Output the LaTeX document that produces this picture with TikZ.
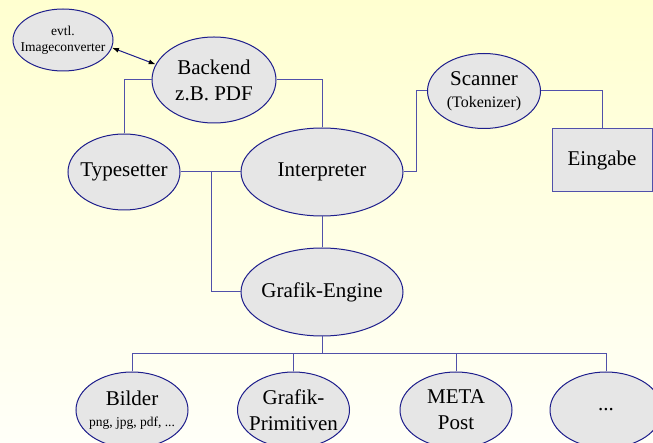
\documentclass[tikz,border=0pt]{standalone}
\usepackage{fontspec}
\setmainfont{Liberation Serif}
\usetikzlibrary{shapes.geometric,arrows.meta}

\definecolor{bgtop}{RGB}{255,255,208}
\definecolor{bgbottom}{RGB}{255,255,248}
\definecolor{rim}{RGB}{30,30,140}
\definecolor{wireblue}{RGB}{80,80,170}
\definecolor{blobfill}{RGB}{230,230,230}

\newcommand{\bigtxt}{\fontsize{21}{26}\selectfont}
\newcommand{\midtxt}{\fontsize{16}{19}\selectfont}
\newcommand{\smalltxt}{\fontsize{13.5}{16}\selectfont}

\begin{document}
\begin{tikzpicture}[x=1pt,y=-1pt,
    blob/.style={ellipse, draw=rim, fill=blobfill, line width=1pt,
        inner xsep=-25pt, inner ysep=0pt, align=center, font=\bigtxt,
        minimum width=112pt, minimum height=76pt},
    inbox/.style={rectangle, draw=wireblue, fill=blobfill, line width=1pt,
        font=\bigtxt, minimum width=100pt, minimum height=63pt},
    wire/.style={draw=wireblue, line width=1pt},
    both/.style={draw=rim, line width=1pt,
        {Latex[black,length=7pt,width=5pt]}-{Latex[black,length=7pt,width=5pt]}}]
    \useasboundingbox (0,0) rectangle (653,443);
    \clip (0,0) rectangle (653,443);
    \shade[top color=bgtop, bottom color=bgbottom] (0,0) rectangle (653,443);

    \node [blob, minimum width=100pt, minimum height=62pt, font=\smalltxt] (conv) at (63,40) {evtl.\\Imageconverter};
    \node [blob, minimum width=124pt, minimum height=86pt] (backend) at (214,80) {Backend\\z.B. PDF};
    \node [blob] (typesetter) at (124,172) {Typesetter};
    \node [blob, minimum width=162pt, minimum height=88pt] (interp) at (322,172) {Interpreter};
    \node [blob, minimum width=113pt, minimum height=75pt] (scanner) at (484,91) {Scanner\\[-4pt]{\midtxt (Tokenizer)}};
    \node [inbox] (eingabe) at (602,160) {Eingabe};
    \node [blob, minimum width=162pt, minimum height=88pt] (engine) at (322,292) {Grafik-Engine};
    \node [blob] (bilder) at (132,410) {Bilder\\[-5pt]{\smalltxt png, jpg, pdf, ...}};
    \node [blob] (prim) at (293.5,410) {Grafik-\\Primitiven};
    \node [blob] (meta) at (456,410) {META\\Post};
    \node [blob] (more) at (606,410) {...};

    \coordinate (tj) at (211,172);
    \coordinate (sj) at (416,91);
    \coordinate (bus) at (322,354);

    \draw [both] (conv.-9) to (backend.165);
    \draw [wire] (backend.west) -| (typesetter.north);
    \draw [wire] (backend.east) -| (interp.north);
    \draw [wire] (typesetter.east) to (interp.west);
    \draw [wire] (tj) |- (engine.west);
    \draw [wire] (interp.east) -| (sj) to (scanner.west);
    \draw [wire] (scanner.east) -| (eingabe.north);
    \draw [wire] (interp.south) to (engine.north);
    \draw [wire] (engine.south) to (bus);
    \draw [wire] (bus) -| (bilder.north);
    \draw [wire] (bus) -| (prim.north);
    \draw [wire] (bus) -| (meta.north);
    \draw [wire] (bus) -| (more.north);
\end{tikzpicture}
\end{document}
